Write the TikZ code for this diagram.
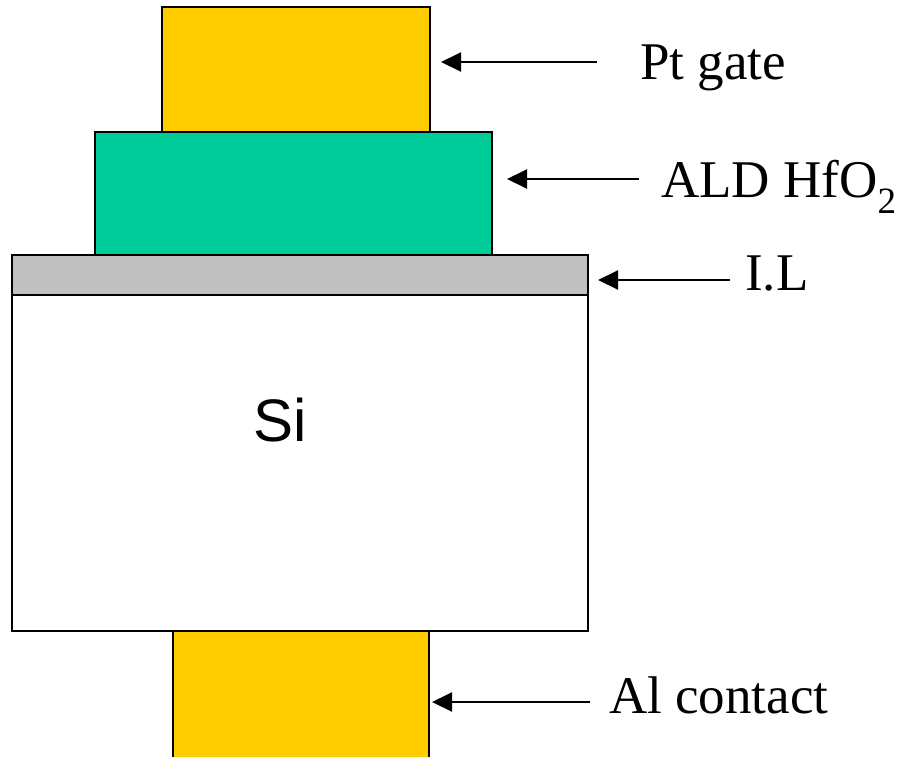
\documentclass[tikz,border=0pt]{standalone}
\usepackage{fontspec}
\setmainfont{Liberation Serif}
\newfontfamily\arialfont{Liberation Sans}
\usetikzlibrary{arrows.meta}
\definecolor{ptyellow}{HTML}{FFCC00}
\definecolor{hfgreen}{HTML}{00CC99}
\definecolor{ilgray}{HTML}{C0C0C0}
\begin{document}
\begin{tikzpicture}[x=1pt,y=-1pt,
  layer/.style={draw=black,line width=1.8pt,rectangle,inner sep=0pt,outer sep=0pt},
  lbl/.style={anchor=base west,inner sep=0pt,font=\fontsize{53}{60}\selectfont},
  arr/.style={line width=2pt,-{Triangle[length=20pt,width=19pt]}}]
\useasboundingbox (0,0) rectangle (900,756);
\clip (0,0) rectangle (900,756);
\node[layer,fill=ptyellow,minimum width=268pt,minimum height=125pt] (gate) at (296,69.5) {};
\node[layer,fill=hfgreen,minimum width=397pt,minimum height=123pt] (hf) at (293.5,193.5) {};
\node[layer,fill=ilgray,minimum width=576pt,minimum height=40pt] (il) at (300,275) {};
\node[layer,fill=white,minimum width=576pt,minimum height=336pt] (si) at (300,463) {};
\node[layer,fill=ptyellow,minimum width=256pt,minimum height=140pt] (al) at (301,701) {};
\node[inner sep=0pt,anchor=base,font=\arialfont\fontsize{60}{70}\selectfont] (silbl) at (280,441) {Si};
\node[lbl] (ptlbl) at (640,79) {Pt gate};
\node[lbl] (hflbl) at (661,197) {ALD HfO\textsubscript{2}};
\node[lbl] (illbl) at (745,290) {I.L};
\node[lbl] (allbl) at (609,713) {Al contact};
\coordinate (pts) at (597,62);
\coordinate (hfs) at (639,179);
\coordinate (ils) at (730,280);
\coordinate (als) at (590,702);
\path (gate.east |- pts) ++(11,0) coordinate (ptt);
\path (hf.east |- hfs) ++(15,0) coordinate (hft);
\path (il.east |- ils) ++(10,0) coordinate (ilt);
\path (al.east |- als) ++(3,0) coordinate (alt);
\draw[arr] (pts) -- (ptt);
\draw[arr] (hfs) -- (hft);
\draw[arr] (ils) -- (ilt);
\draw[arr] (als) -- (alt);
\end{tikzpicture}
\end{document}
